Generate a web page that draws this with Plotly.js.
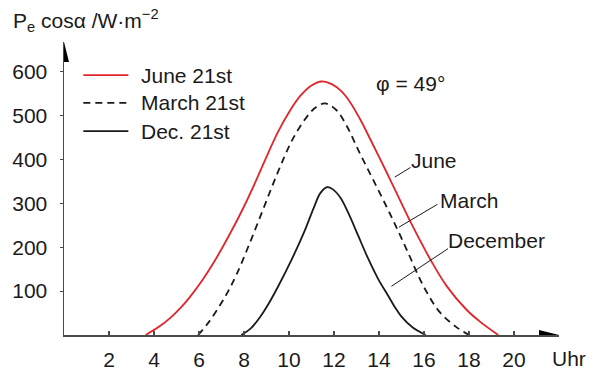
<!DOCTYPE html>
<html>
<head>
<meta charset="utf-8">
<script src="https://cdn.plot.ly/plotly-3.0.1.min.js"></script>
<style>html,body{margin:0;padding:0;background:#fff;}#chart{width:595px;height:373px;}</style>
</head>
<body>
<div id="chart"></div>
<script>
// ---- data (hour of day, Pe·cos α in W/m²) ----
const juneHours   = [3.63, 4.2, 4.7, 5.2, 5.6, 6.2, 6.8, 7.4, 8.0, 8.5, 9.0, 9.5, 10.0, 10.5, 11.0, 11.45, 11.9, 12.3, 12.7, 13.15, 13.75, 14.3, 14.9, 15.35, 15.8, 16.25, 17.0, 17.9, 18.5, 19.3];
const juneValues  = [0, 18, 38, 63, 87, 129, 178, 233, 293, 348, 406, 462, 508, 545, 569, 578, 572, 557, 532, 493, 432, 375, 311, 263, 218, 175, 112, 57, 30, 0];

const marchHours  = [5.96, 6.4, 6.9, 7.3, 7.66, 8.18, 8.77, 9.29, 9.8, 10.2, 10.8, 11.2, 11.6, 12.1, 12.55, 13.14, 13.73, 14.33, 14.77, 15.29, 15.96, 16.7, 17.44, 18.0];
const marchValues = [0, 27, 65, 100, 137, 200, 276, 344, 407, 450, 498, 519, 528, 513, 478, 415, 355, 293, 246, 188, 113, 52, 18, 0];

const decHours    = [7.88, 8.3, 8.7, 9.1, 9.51, 10.1, 10.7, 11.1, 11.4, 11.7, 11.95, 12.3, 12.62, 13.07, 13.51, 13.96, 14.4, 14.7, 15.0, 15.5, 16.07];
const decValues   = [0, 15, 40, 72, 110, 170, 238, 290, 324, 337, 332, 312, 280, 227, 175, 128, 90, 64, 42, 17, 0];

const seriesNames = ['June 21st', 'March 21st', 'Dec. 21st'];
const curveLabels = ['June', 'March', 'December'];
const xTickValues = [2, 4, 6, 8, 10, 12, 14, 16, 18, 20];
const yTickValues = [100, 200, 300, 400, 500, 600];
const xUnitLabel  = 'Uhr';
const yAxisLabel  = 'P<sub>e</sub> cos\u03b1 /W\u00b7m<sup>\u22122</sup>';
const latitudeLabel = '\u03c6 = 49\u00b0';

// ---- styling ----
const RED = '#e2242b';
const INK = '#1a1a1a';
const AXIS = '#4a4a4a';
const FONT = 'Liberation Sans, Arial, Helvetica, sans-serif';
const FS = 21;

const traces = [
  {x: juneHours, y: juneValues, name: seriesNames[0], mode: 'lines',
   line: {color: RED, width: 1.8, shape: 'spline', smoothing: 1}},
  {x: marchHours, y: marchValues, name: seriesNames[1], mode: 'lines',
   line: {color: INK, width: 1.8, dash: '7px,5px', shape: 'spline', smoothing: 1}},
  {x: decHours, y: decValues, name: seriesNames[2], mode: 'lines',
   line: {color: INK, width: 1.8, shape: 'spline', smoothing: 1}}
];

const X_MAX = 22, Y_MAX = 668;

// legend rows (paper coordinates)
const legendRowsY = [0.887, 0.792, 0.696];
const legendStyles = [{color: RED, dash: 'solid'}, {color: INK, dash: '7px,5px'}, {color: INK, dash: 'solid'}];

const shapes = [
  // x-axis arrowhead
  {type: 'path', xref: 'x', yref: 'y', xsizemode: 'pixel', ysizemode: 'pixel', xanchor: X_MAX, yanchor: 0,
   path: 'M 0 0 L -20 5 L -20 -5 Z', fillcolor: '#000', line: {width: 0}},
  // y-axis arrowhead
  {type: 'path', xref: 'x', yref: 'y', xsizemode: 'pixel', ysizemode: 'pixel', xanchor: 0, yanchor: Y_MAX,
   path: 'M 0 0 L -5 -20 L 5 -20 Z', fillcolor: '#000', line: {width: 0}},
  // pointer lines from curves to their labels
  {type: 'line', xref: 'x', yref: 'y', x0: 14.70, y0: 360, x1: 15.40, y1: 382, line: {color: INK, width: 1}},
  {type: 'line', xref: 'x', yref: 'y', x0: 14.89, y0: 246, x1: 16.60, y1: 298, line: {color: INK, width: 1}},
  {type: 'line', xref: 'x', yref: 'y', x0: 14.55, y0: 111, x1: 17.07, y1: 197, line: {color: INK, width: 1}}
];
legendRowsY.forEach((ly, i) => {
  shapes.push({type: 'line', xref: 'paper', yref: 'paper', x0: 0.039, x1: 0.130, y0: ly, y1: ly,
    line: {color: legendStyles[i].color, width: 1.8, dash: legendStyles[i].dash}});
});

const annotations = [
  {xref: 'paper', yref: 'paper', x: -0.107, y: 1.075, xanchor: 'left', yanchor: 'middle',
   text: yAxisLabel, showarrow: false, font: {size: FS, color: INK}},
  {xref: 'paper', yref: 'paper', x: 1.021, y: -0.079, xanchor: 'center', yanchor: 'middle',
   text: xUnitLabel, showarrow: false, font: {size: FS, color: INK}},
  {xref: 'x', yref: 'y', x: 13.78, y: 574, xanchor: 'left', yanchor: 'middle',
   text: latitudeLabel, showarrow: false, font: {size: FS, color: INK}},
  {xref: 'x', yref: 'y', x: 15.33, y: 398, xanchor: 'left', yanchor: 'middle',
   text: curveLabels[0], showarrow: false, font: {size: FS, color: INK}},
  {xref: 'x', yref: 'y', x: 16.64, y: 307, xanchor: 'left', yanchor: 'middle',
   text: curveLabels[1], showarrow: false, font: {size: FS, color: INK}},
  {xref: 'x', yref: 'y', x: 16.99, y: 216, xanchor: 'left', yanchor: 'middle',
   text: curveLabels[2], showarrow: false, font: {size: FS, color: INK}}
];
legendRowsY.forEach((ly, i) => {
  annotations.push({xref: 'paper', yref: 'paper', x: 0.152, y: ly, xanchor: 'left', yanchor: 'middle',
    text: seriesNames[i], showarrow: false, font: {size: FS, color: INK}});
});

const layout = {
  width: 595, height: 373,
  margin: {l: 64, r: 36, t: 42, b: 38, pad: 0},
  paper_bgcolor: '#fff', plot_bgcolor: '#fff',
  showlegend: false,
  font: {family: FONT, size: FS, color: INK},
  xaxis: {
    range: [0, X_MAX], tickmode: 'array', tickvals: xTickValues, ticktext: xTickValues.map(String),
    ticks: 'inside', ticklen: 4, tickwidth: 1.2, tickcolor: AXIS,
    showline: true, linecolor: AXIS, linewidth: 1.5, showgrid: false, zeroline: false,
    ticklabelstandoff: 5, tickfont: {size: FS, color: INK}, fixedrange: true
  },
  yaxis: {
    range: [0, Y_MAX], tickmode: 'array', tickvals: yTickValues, ticktext: yTickValues.map(String),
    ticks: 'outside', ticklen: 3, tickwidth: 1.2, tickcolor: AXIS,
    showline: true, linecolor: AXIS, linewidth: 1.5, showgrid: false, zeroline: false,
    ticklabelstandoff: 8, tickfont: {size: FS, color: INK}, fixedrange: true
  },
  shapes: shapes,
  annotations: annotations
};

Plotly.newPlot('chart', traces, layout, {staticPlot: true, displayModeBar: false});
</script>
</body>
</html>
